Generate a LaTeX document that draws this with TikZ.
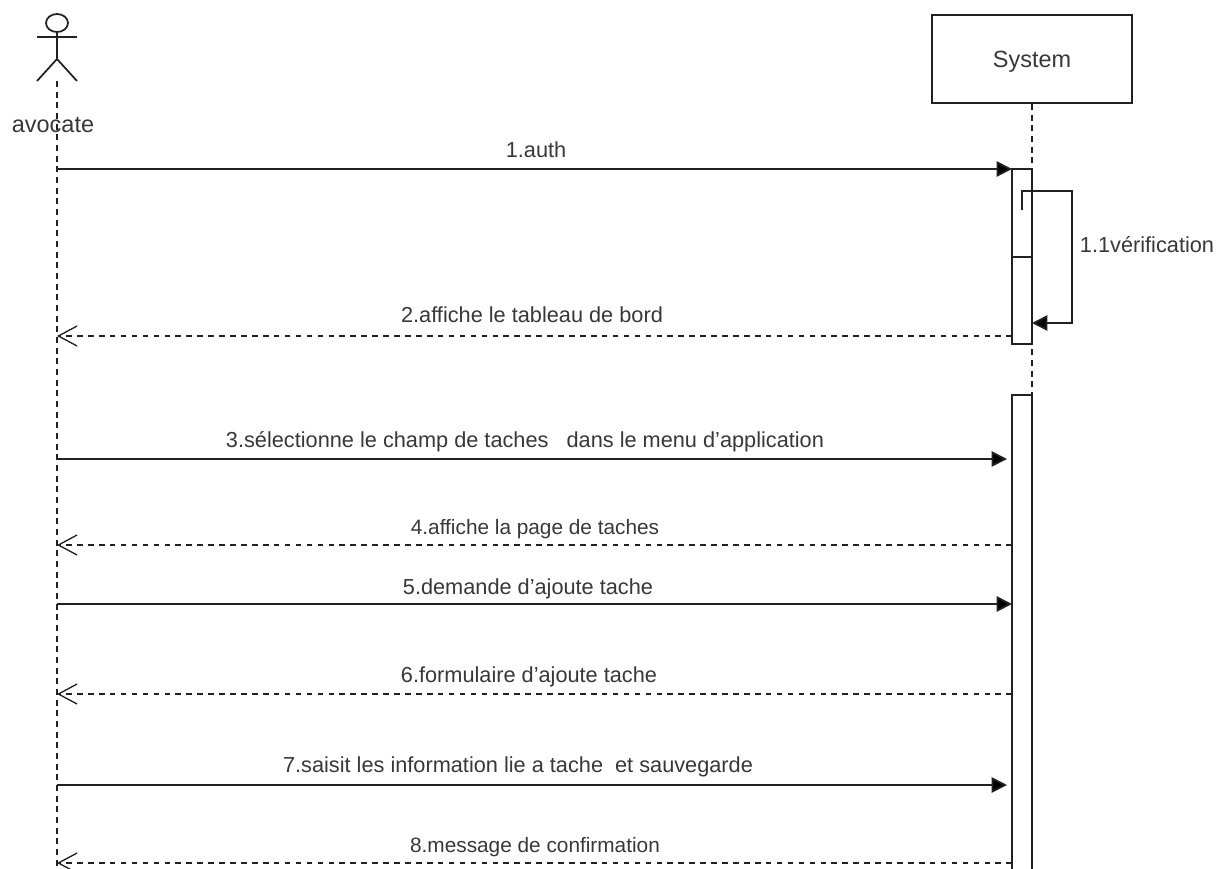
\documentclass[tikz,border=0pt]{standalone}
\usepackage{fontspec}
\setmainfont{Liberation Sans}
\usetikzlibrary{arrows.meta}
\definecolor{ink}{gray}{0.13}
\definecolor{txt}{gray}{0.22}
\tikzset{
  x=0.75pt,y=-0.75pt,
  every path/.style={line width=1.3pt,draw=ink},
  lifeline/.style={line width=1.1pt,dash pattern=on 4.5pt off 3.5pt},
  call/.style={-{Triangle[length=11.5pt,width=11.5pt,fill=black]}},
  reply/.style={dash pattern=on 4.2pt off 4pt,-{Straight Barb[length=14pt,width=15pt,line width=1pt]}},
  lbl/.style={font=\fontsize{16.3pt}{18pt}\selectfont,text=txt,inner sep=0pt,anchor=base},
  narrowlbl/.style={font=\fontsize{15.6pt}{18pt}\selectfont,text=txt,inner sep=0pt,anchor=base},
  biglbl/.style={font=\fontsize{17.6pt}{19pt}\selectfont,text=txt,inner sep=0pt},
  box/.style={draw=ink,fill=white,line width=1.3pt,inner sep=0pt,minimum width=150pt,minimum height=66pt,text height=12.6pt,text depth=0pt},
  bar/.style={draw=ink,fill=white,line width=1.3pt,inner sep=0pt,minimum width=15pt}
}
\begin{document}
\begin{tikzpicture}
\useasboundingbox[draw=none] (0,0) rectangle (1223,868);
\fill[white,draw=none] (0,0) rectangle (1223,868);
% named anchors
\coordinate (actorfoot) at (57,81);
\coordinate (actorend) at (57,868);
\node[biglbl,box] (sys) at (1032,59) {System};
\coordinate (sysend) at (1032,395);
% lifelines
\draw[lifeline] (actorfoot) -- (actorend);
\draw[lifeline] (sys.south) -- (sysend);
% actor
\draw (57,23) ellipse [x radius=11,y radius=9];
\draw (57,32) -- (57,59);
\draw (37,37) -- (77,37);
\draw (37,81) -- (57,59) -- (77,81);
\node[biglbl] (actorlbl) at (53,125) {avocate};
% activations
\node[bar,minimum height=131.25pt] (act1) at (1022,256.5) {};
\node[bar,minimum height=360pt] (act2) at (1022,635) {};
\draw (act1.west |- 0,257) -- (act1.east |- 0,257);
% self message
\coordinate (selfa) at (1022,210);
\coordinate (selfb) at (1032,323);
\draw[call] (selfa) -- (1022,191) -- (1072,191) -- (1072,323) -- (selfb);
\node[lbl] (l11) at (1147,252) {1.1vérification};
% messages
\coordinate (a1) at (57,169); \coordinate (s1) at (1012,169);
\draw[call] (a1) -- (s1);
\node[lbl] at (536,157) {1.auth};
\coordinate (a2) at (57,336); \coordinate (s2) at (1012,336);
\draw[reply] (s2) -- (a2);
\node[lbl] at (532,322) {2.affiche le tableau de bord};
\coordinate (a3) at (57,459); \coordinate (s3) at (1007,459);
\draw[call] (a3) -- (s3);
\node[lbl] at (525,447) {3.sélectionne le champ de taches \ \ dans le menu d'application};
\coordinate (a4) at (57,545); \coordinate (s4) at (1012,545);
\draw[reply] (s4) -- (a4);
\node[narrowlbl] at (535,534) {4.affiche la page de taches};
\coordinate (a5) at (57,604); \coordinate (s5) at (1012,604);
\draw[call] (a5) -- (s5);
\node[lbl] at (528,594) {5.demande d'ajoute tache};
\coordinate (a6) at (57,694); \coordinate (s6) at (1012,694);
\draw[reply] (s6) -- (a6);
\node[lbl] at (529,682) {6.formulaire d'ajoute tache};
\coordinate (a7) at (57,785); \coordinate (s7) at (1007,785);
\draw[call] (a7) -- (s7);
\node[lbl] at (518,772) {7.saisit les information lie a tache \ et sauvegarde};
\coordinate (a8) at (57,863); \coordinate (s8) at (1012,863);
\draw[reply] (s8) -- (a8);
\node[narrowlbl] at (535,852) {8.message de confirmation};
\end{tikzpicture}
\end{document}
